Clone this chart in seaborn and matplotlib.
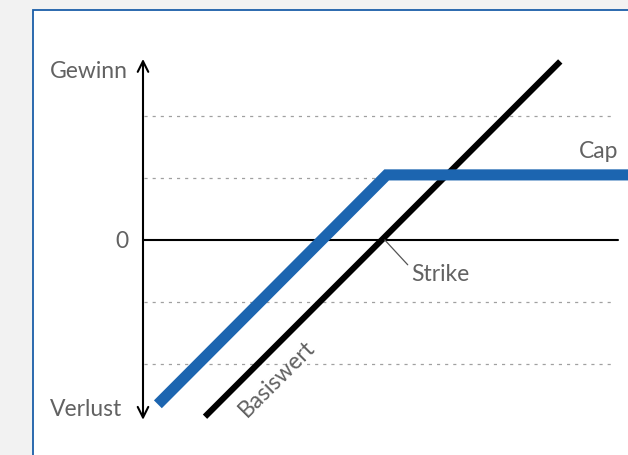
import numpy as np
import matplotlib
matplotlib.use('Agg')
import matplotlib.pyplot as plt
import matplotlib.patches as mpatches
import seaborn as sns

sns.set_theme(style='white')
plt.rcParams['font.family'] = ['Lato', 'DejaVu Sans']

# payoff diagram data (grid units, one unit = one dotted line step)
basis_x = [1.0, 6.73]
basis_y = [-2.85, 2.88]
cap_x = [0.24, 3.93, 7.9]
cap_y = [-2.65, 1.05, 1.05]
grid_levels = [2, 1, -1, -2]
strike = 3.87
label_color = '#626262'
blue = '#1c65b0'

fig = plt.figure(figsize=(6.28, 4.55), dpi=100)
fig.patch.set_facecolor('#f2f2f2')

# white panel with blue border (behind the axes)
panel = mpatches.Rectangle((33 / 628, -0.05), 1.0, (455 - 10) / 455 + 0.05,
                           transform=fig.transFigure, facecolor='white',
                           edgecolor='#1a5ea8', linewidth=1.3, zorder=-5)
fig.patches.append(panel)

ax = fig.add_axes([0, 0, 1, 1])
ax.set_zorder(2)
ax.set_xlim((0 - 143) / 62, (628 - 143) / 62)
ax.set_ylim((240 - 455) / 62, 240 / 62)
ax.axis('off')
ax.patch.set_alpha(0)

# dotted helper lines
for lv in grid_levels:
    ax.plot([0.02, 7.6], [lv, lv], color='#a0a0a0', lw=0.9,
            linestyle=(0, (2.5, 4)), zorder=1)

# zero line
ax.plot([0, 7.66], [0, 0], color='black', lw=1.5, zorder=2)

# vertical axis with arrows
ax.annotate('', xy=(0, 2.92), xytext=(0, 0),
            arrowprops=dict(arrowstyle='->', lw=1.5, color='black',
                            mutation_scale=19, shrinkA=0, shrinkB=0))
ax.annotate('', xy=(0, -2.9), xytext=(0, 0),
            arrowprops=dict(arrowstyle='->', lw=1.5, color='black',
                            mutation_scale=19, shrinkA=0, shrinkB=0))

# underlying and capped payoff
sns.lineplot(x=basis_x, y=basis_y, ax=ax, color='black', lw=4.4,
             solid_capstyle='butt', zorder=3, sort=False)
sns.lineplot(x=cap_x, y=cap_y, ax=ax, color=blue, lw=8,
             solid_capstyle='butt', solid_joinstyle='miter', zorder=4, sort=False)

# labels
fs = 16.5
ax.text(-0.24, 2.72, 'Gewinn', ha='right', va='center', fontsize=fs,
        color=label_color)
ax.text(-0.33, -2.73, 'Verlust', ha='right', va='center', fontsize=fs,
        color=label_color)
ax.text(-0.24, -0.02, '0', ha='right', va='center', fontsize=fs,
        color=label_color)
ax.text(7.66, 1.42, 'Cap', ha='right', va='center', fontsize=fs,
        color=label_color)
ax.text(4.33, -0.56, 'Strike', ha='left', va='center', fontsize=fs,
        color=label_color)
ax.plot([strike + 0.03, strike + 0.4], [0, -0.4], color='#555555', lw=0.9, zorder=5)
ax.text(2.16, -2.23, 'Basiswert', ha='center', va='center', fontsize=fs,
        color=label_color, rotation=45, rotation_mode='anchor')

fig.savefig('out.png', dpi=100, facecolor=fig.get_facecolor())
